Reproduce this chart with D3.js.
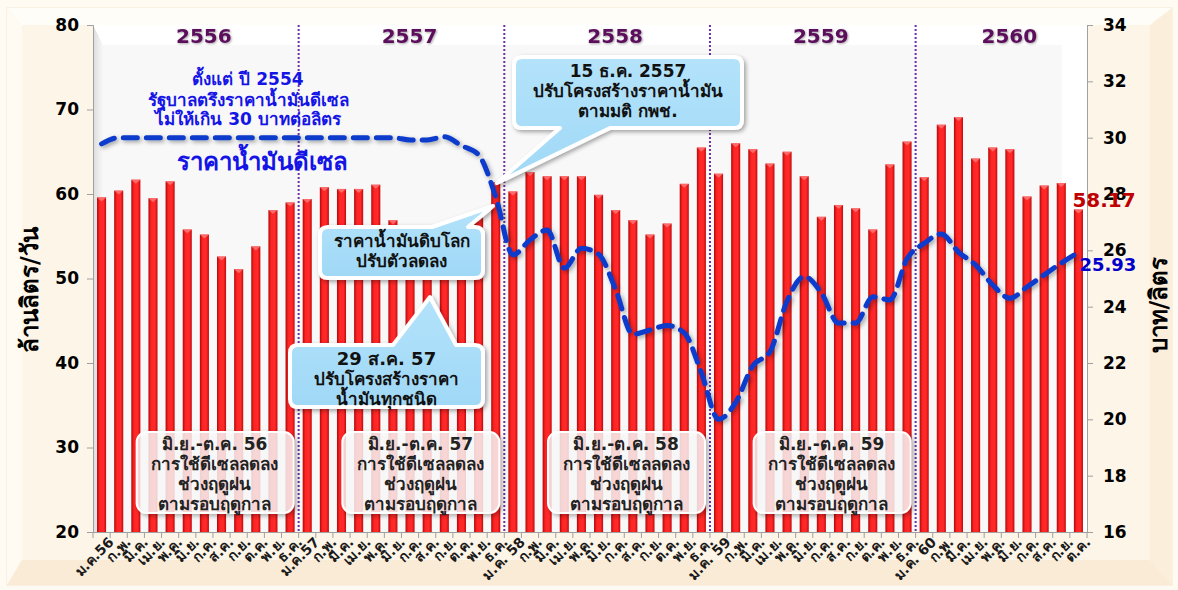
<!DOCTYPE html>
<html>
<head>
<meta charset="utf-8">
<script src="https://cdn.jsdelivr.net/npm/d3@7"></script>
<style>
  body { margin: 0; background: #fff; }
  svg text { font-family: Tahoma, "DejaVu Sans", sans-serif; font-weight: bold; }
</style>
</head>
<body>
<div id="chart"></div>
<script>
//Datos
const months = ['ม.ค.56','ก.พ.','มี.ค.','เม.ย.','พ.ค.','มิ.ย.','ก.ค.','ส.ค.','ก.ย.','ต.ค.','พ.ย.','ธ.ค.',
  'ม.ค.57','ก.พ.','มี.ค.','เม.ย.','พ.ค.','มิ.ย.','ก.ค.','ส.ค.','ก.ย.','ต.ค.','พ.ย.','ธ.ค.',
  'ม.ค. 58','ก.พ.','มี.ค.','เม.ย.','พ.ค.','มิ.ย.','ก.ค.','ส.ค.','ก.ย.','ต.ค.','พ.ย.','ธ.ค.',
  'ม.ค. 59','ก.พ.','มี.ค.','เม.ย.','พ.ค.','มิ.ย.','ก.ค.','ส.ค.','ก.ย.','ต.ค.','พ.ย.','ธ.ค.',
  'ม.ค. 60','ก.พ.','มี.ค.','เม.ย.','พ.ค.','มิ.ย.','ก.ค.','ส.ค.','ก.ย.','ต.ค.'];

// ปริมาณการใช้ดีเซล (ล้านลิตร/วัน)
const usage = [59.6, 60.4, 61.7, 59.5, 61.5, 55.8, 55.2, 52.6, 51.1, 53.8, 58.1, 59.0,
  59.4, 60.8, 60.6, 60.6, 61.1, 56.9, 55.6, 55.0, 53.2, 54.3, 57.2, 61.4,
  60.3, 62.6, 62.1, 62.1, 62.1, 59.9, 58.1, 56.9, 55.2, 56.5, 61.2, 65.5,
  62.4, 66.0, 65.3, 63.6, 65.0, 62.1, 57.3, 58.7, 58.3, 55.8, 63.5, 66.2,
  62.0, 68.2, 69.1, 64.2, 65.5, 65.3, 59.7, 61.0, 61.3, 58.17];

// ราคาน้ำมันดีเซล (บาท/ลิตร)
const price = [29.78, 30.0, 30.0, 30.0, 30.0, 30.0, 30.0, 30.0, 30.0, 30.0, 30.0, 30.0,
  30.0, 30.0, 30.0, 30.0, 30.0, 30.0, 29.92, 29.92, 30.03, 29.72, 29.39, 27.9,
  25.84, 26.37, 26.72, 25.37, 26.07, 25.86, 24.6, 23.02, 23.17, 23.33, 23.07, 21.65,
  20.0, 20.6, 21.9, 22.4, 24.2, 25.07, 24.49, 23.42, 23.42, 24.35, 24.24, 25.7,
  26.25, 26.58, 25.94, 25.48, 24.77, 24.3, 24.7, 25.13, 25.55, 25.93];

const years = ['2556', '2557', '2558', '2559', '2560'];
const leftTicks = [20, 30, 40, 50, 60, 70, 80];
const rightTicks = [16, 18, 20, 22, 24, 26, 28, 30, 32, 34];

const seasonNotes = [
  ['มิ.ย.-ต.ค. 56', 'การใช้ดีเซลลดลง', 'ช่วงฤดูฝน', 'ตามรอบฤดูกาล'],
  ['มิ.ย.-ต.ค. 57', 'การใช้ดีเซลลดลง', 'ช่วงฤดูฝน', 'ตามรอบฤดูกาล'],
  ['มิ.ย.-ต.ค. 58', 'การใช้ดีเซลลดลง', 'ช่วงฤดูฝน', 'ตามรอบฤดูกาล'],
  ['มิ.ย.-ต.ค. 59', 'การใช้ดีเซลลดลง', 'ช่วงฤดูฝน', 'ตามรอบฤดูกาล']
];

const width = 1178, height = 590;
const m = {left: 93, right: 1087, top: 25, bottom: 532};

const svg = d3.select('#chart').append('svg')
  .attr('width', width).attr('height', height);

const defs = svg.append('defs');

let gBar = defs.append('linearGradient').attr('id', 'barGrad').attr('x1', 0).attr('x2', 1).attr('y1', 0).attr('y2', 0);
gBar.append('stop').attr('offset', '0%').attr('stop-color', '#b00808');
gBar.append('stop').attr('offset', '30%').attr('stop-color', '#ff2424');
gBar.append('stop').attr('offset', '70%').attr('stop-color', '#ff2a2a');
gBar.append('stop').attr('offset', '100%').attr('stop-color', '#c40a0a');

let gWall = defs.append('linearGradient').attr('id', 'wallGrad').attr('x1', 0).attr('x2', 1).attr('y1', 0).attr('y2', 0);
gWall.append('stop').attr('offset', '0%').attr('stop-color', '#dcdcdc');
gWall.append('stop').attr('offset', '100%').attr('stop-color', '#f8f8f9');

let gCall = defs.append('linearGradient').attr('id', 'callGrad').attr('x1', 0).attr('x2', 0).attr('y1', 0).attr('y2', 1);
gCall.append('stop').attr('offset', '0%').attr('stop-color', '#b4e3fb');
gCall.append('stop').attr('offset', '100%').attr('stop-color', '#9fd8f6');

let fShadow = defs.append('filter').attr('id', 'shadow').attr('x', '-10%').attr('y', '-10%').attr('width', '130%').attr('height', '140%');
fShadow.append('feDropShadow').attr('dx', 2).attr('dy', 2).attr('stdDeviation', 2).attr('flood-color', '#000').attr('flood-opacity', 0.35);

let fText = defs.append('filter').attr('id', 'tshadow');
fText.append('feDropShadow').attr('dx', 1).attr('dy', 1).attr('stdDeviation', 1).attr('flood-color', '#000').attr('flood-opacity', 0.35);

//Fondo
svg.append('rect').attr('width', width).attr('height', height).attr('fill', '#fffaf2');
svg.append('rect').attr('x', 7).attr('y', 8).attr('width', 1165).attr('height', 577)
  .attr('fill', '#fdf3e3').attr('stroke', '#f1e6d4');
svg.append('polygon').attr('points', '7,8 1172,8 1150,25 22,25').attr('fill', '#fffdf8');
svg.append('polygon').attr('points', '7,8 22,25 22,560 7,585').attr('fill', '#fffbf2');
svg.append('polygon').attr('points', '7,585 22,560 1150,560 1172,585').attr('fill', '#f9ebd6');
svg.append('polygon').attr('points', '1172,8 1150,25 1150,560 1172,585').attr('fill', '#fbefdc');
svg.append('rect').attr('x', 22).attr('y', 25).attr('width', 1128).attr('height', 535).attr('fill', '#fdf5e7');

//Área del gráfico
svg.append('rect').attr('x', m.left).attr('y', m.top).attr('width', m.right - m.left).attr('height', m.bottom - m.top).attr('fill', '#ffffff');
svg.append('polygon')
  .attr('points', `${m.left},${m.top} ${m.left + 10},${m.top + 20} ${m.left + 10},${m.bottom} ${m.left},${m.bottom}`)
  .attr('fill', 'url(#wallGrad)');
svg.append('rect').attr('x', m.left + 10).attr('y', m.top + 20).attr('width', m.right - m.left - 35).attr('height', m.bottom - m.top - 20).attr('fill', '#f8f8f9');

//Escalas
const x = d3.scaleBand().domain(d3.range(months.length)).range([m.left, m.right]).paddingInner(0.47).paddingOuter(0.235);
const yL = d3.scaleLinear().domain([20, 80]).range([m.bottom, m.top]);
const yR = d3.scaleLinear().domain([16, 34]).range([m.bottom, m.top]);
const step = x.step();
const cx = i => x(i) + x.bandwidth() / 2;

//Barras
const bars = svg.append('g');
bars.selectAll('rect').data(usage).enter().append('rect')
  .attr('x', (d, i) => x(i)).attr('y', d => yL(d))
  .attr('width', x.bandwidth()).attr('height', d => yL(20) - yL(d))
  .attr('fill', 'url(#barGrad)');
bars.selectAll('path').data(usage).enter().append('path')
  .attr('d', (d, i) => `M${x(i)},${yL(d)} L${x(i) + x.bandwidth()},${yL(d)} L${cx(i)},${yL(d) + 4} Z`)
  .attr('fill', '#ff7a7a').attr('opacity', 0.8);

//Separadores de año
const sep = svg.append('g');
[12, 24, 36, 48].forEach(k => {
  const xs = m.left + k * step;
  sep.append('line').attr('x1', xs).attr('x2', xs).attr('y1', m.top).attr('y2', m.bottom)
    .attr('stroke', '#7030a0').attr('stroke-width', 2).attr('stroke-dasharray', '2,2');
});

//Años
years.forEach((yr, k) => {
  const n = Math.min(12, months.length - k * 12);
  const xc = m.left + (k * 12 + n / 2) * step + 8;
  svg.append('text').attr('x', xc).attr('y', 43).attr('text-anchor', 'middle')
    .attr('font-size', 20).attr('fill', '#5b0f5b').attr('filter', 'url(#tshadow)').text(yr);
});

//Ejes
const axL = svg.append('g').attr('transform', `translate(${m.left},0)`)
  .call(d3.axisLeft(yL).tickValues(leftTicks).tickSize(6).tickPadding(8));
const axR = svg.append('g').attr('transform', `translate(${m.right},0)`)
  .call(d3.axisRight(yR).tickValues(rightTicks).tickSize(6).tickPadding(10));
[axL, axR].forEach(a => {
  a.select('.domain').attr('stroke', '#a0a0a0');
  a.selectAll('.tick line').attr('stroke', '#a0a0a0');
  a.selectAll('text').attr('font-size', 17).attr('fill', '#000');
});

const axB = svg.append('g').attr('transform', `translate(0,${m.bottom})`)
  .call(d3.axisBottom(x).tickSize(0).tickFormat(i => months[i]));
axB.select('.domain').attr('stroke', '#a0a0a0');
axB.selectAll('text').attr('font-size', 14).attr('fill', '#1a1a1a')
  .attr('text-anchor', 'end')
  .attr('transform', 'translate(5,3) rotate(-45)')
  .attr('dy', '0.6em').attr('dx', '0');
d3.range(months.length + 1).forEach(k => {
  axB.append('line').attr('x1', m.left + k * step).attr('x2', m.left + k * step)
    .attr('y1', 0).attr('y2', 6).attr('stroke', '#a0a0a0');
});

//Títulos de ejes
svg.append('text').attr('transform', 'translate(38,290) rotate(-90)').attr('text-anchor', 'middle')
  .attr('font-size', 24).attr('fill', '#000').text('ล้านลิตร/วัน');
svg.append('text').attr('transform', 'translate(1167,305) rotate(-90)').attr('text-anchor', 'middle')
  .attr('font-size', 24).attr('fill', '#000').text('บาท/ลิตร');

//Línea de precio
const line = d3.line().x((d, i) => cx(i)).y(d => yR(d)).curve(d3.curveMonotoneX);
svg.append('path').datum(price).attr('d', line)
  .attr('fill', 'none').attr('stroke', '#0a3acc').attr('stroke-width', 5)
  .attr('stroke-dasharray', '14,9').attr('stroke-linecap', 'round')
  .attr('filter', 'url(#shadow)');

//Etiquetas de valor final
const last = usage.length - 1;
svg.append('text').attr('x', cx(last) - 6).attr('y', yL(usage[last]) - 2)
  .attr('font-size', 20).attr('fill', '#c00000').text(usage[last].toFixed(2));
svg.append('text').attr('x', cx(last) + 1).attr('y', yR(price[last]) + 19)
  .attr('font-size', 18).attr('fill', '#0000cc').text(price[last].toFixed(2));

//Texto informativo
const info = svg.append('text').attr('text-anchor', 'middle').attr('fill', '#1414e6').attr('font-size', 17);
[['ตั้งแต่ ปี 2554', 85], ['รัฐบาลตรึงราคาน้ำมันดีเซล', 106], ['ไม่ให้เกิน 30 บาทต่อลิตร', 125]].forEach(t => {
  info.append('tspan').attr('x', 248).attr('y', t[1]).text(t[0]);
});
svg.append('text').attr('x', 262).attr('y', 170).attr('text-anchor', 'middle')
  .attr('font-size', 24).attr('fill', '#1414e6').text('ราคาน้ำมันดีเซล');

//Cuadros de temporada
seasonNotes.forEach((lines, k) => {
  const x0 = m.left + (k * 12 + 5) * step - 42;
  const g = svg.append('g');
  g.append('rect').attr('x', x0).attr('y', 432).attr('width', 157).attr('height', 81).attr('rx', 10)
    .attr('fill', '#ffffff').attr('fill-opacity', 0.78).attr('stroke', '#ffffff').attr('stroke-width', 2)
    .attr('filter', 'url(#shadow)');
  lines.forEach((t, j) => {
    g.append('text').attr('x', x0 + 78).attr('y', 450 + j * 20).attr('text-anchor', 'middle')
      .attr('font-size', j === 0 ? 17 : 17).attr('fill', '#222').text(t);
  });
});

//Llamadas
function callout(box, base, tip, lines, fs) {
  const [x0, y0, w, h] = box, r = 8;
  const x1 = x0 + w, y1 = y0 + h;
  let p;
  if (base.side === 'top') {
    p = `M${x0 + r},${y0} L${base.a},${y0} L${tip[0]},${tip[1]} L${base.b},${y0} L${x1 - r},${y0} Q${x1},${y0} ${x1},${y0 + r} L${x1},${y1 - r} Q${x1},${y1} ${x1 - r},${y1} L${x0 + r},${y1} Q${x0},${y1} ${x0},${y1 - r} L${x0},${y0 + r} Q${x0},${y0} ${x0 + r},${y0} Z`;
  } else {
    p = `M${x0 + r},${y0} L${x1 - r},${y0} Q${x1},${y0} ${x1},${y0 + r} L${x1},${y1 - r} Q${x1},${y1} ${x1 - r},${y1} L${base.b},${y1} L${tip[0]},${tip[1]} L${base.a},${y1} L${x0 + r},${y1} Q${x0},${y1} ${x0},${y1 - r} L${x0},${y0 + r} Q${x0},${y0} ${x0 + r},${y0} Z`;
  }
  const g = svg.append('g');
  g.append('path').attr('d', p).attr('fill', 'url(#callGrad)').attr('stroke', '#ffffff')
    .attr('stroke-width', 4).attr('stroke-linejoin', 'round').attr('filter', 'url(#shadow)');
  lines.forEach((t, j) => {
    g.append('text').attr('x', x0 + w / 2).attr('y', y0 + 20 + j * 20).attr('text-anchor', 'middle')
      .attr('font-size', j === 0 ? fs[0] : fs[1]).attr('fill', '#111').text(t);
  });
}

callout([320, 227, 163, 51], {side: 'top', a: 432, b: 468}, [493, 206],
  ['ราคาน้ำมันดิบโลก', 'ปรับตัวลดลง'], [17, 17]);
callout([290, 345, 193, 62], {side: 'top', a: 393, b: 456}, [430, 297],
  ['29 ส.ค. 57', 'ปรับโครงสร้างราคา', 'น้ำมันทุกชนิด'], [18, 17]);
callout([514, 57, 228, 71], {side: 'bottom', a: 560, b: 610}, [497, 183],
  ['15 ธ.ค. 2557', 'ปรับโครงสร้างราคาน้ำมัน', 'ตามมติ กพช.'], [17, 17]);
</script>
</body>
</html>
